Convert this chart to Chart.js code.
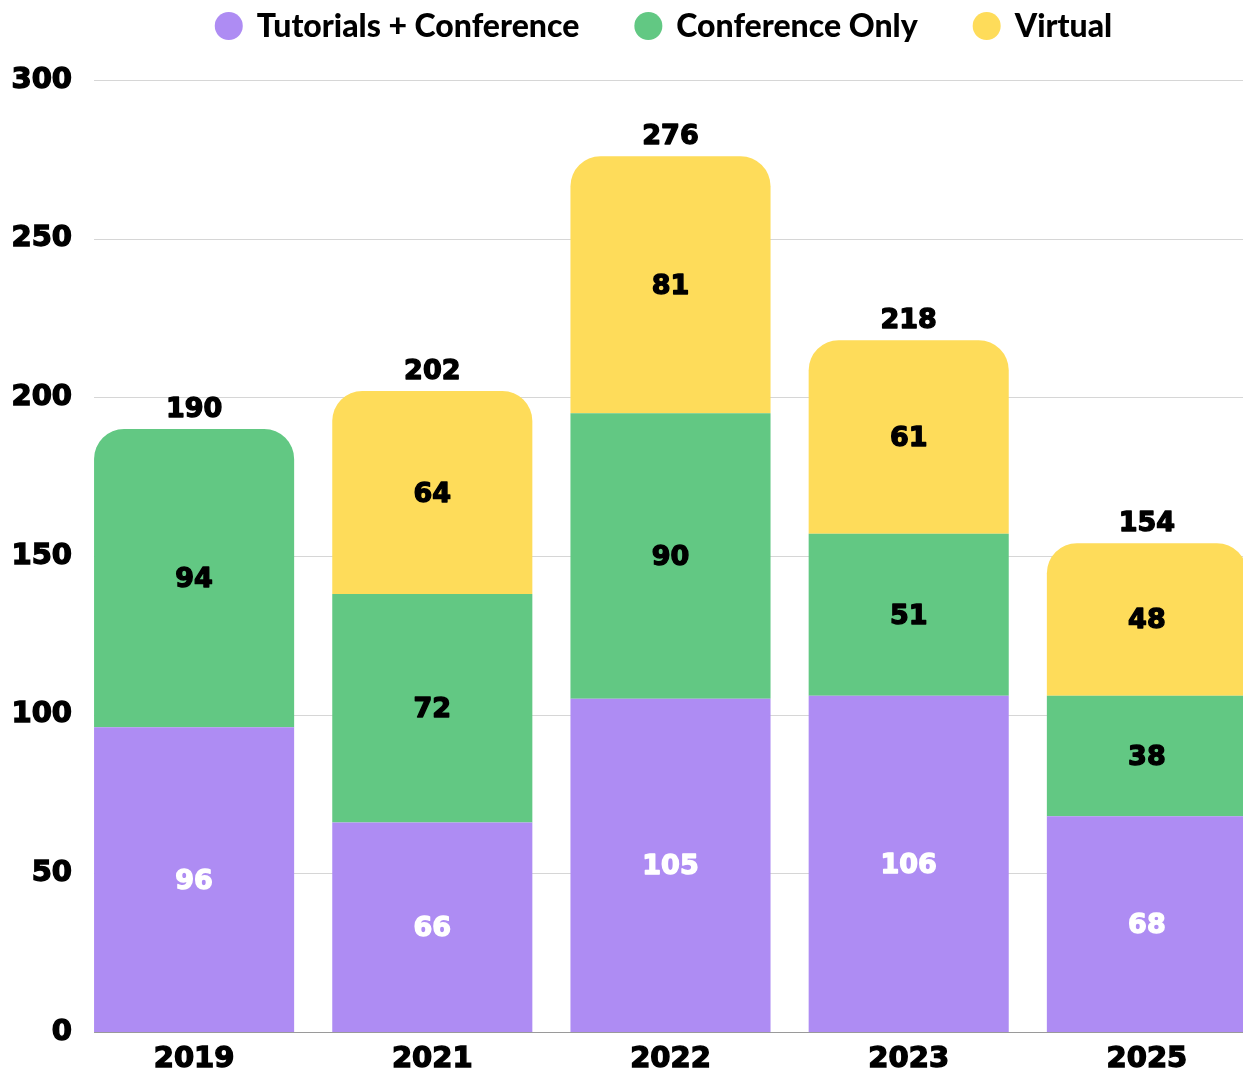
<!DOCTYPE html>
<html>
<head>
<meta charset="utf-8">
<title>Attendance by year</title>
<script src="https://cdn.jsdelivr.net/npm/chart.js@4.4.1/dist/chart.umd.min.js"></script>
<style>
  html, body { margin: 0; padding: 0; background: #fff; overflow: hidden; }
  #wrap { width: 1243px; height: 1074px; overflow: hidden; }
  #box { width: 1266px; height: 1074px; position: relative; }
</style>
</head>
<body>
<div id="wrap"><div id="box"><canvas id="chart"></canvas></div></div>
<script>
// Data
const years = ['2019', '2021', '2022', '2023', '2025'];
const tutorialsConf = [96, 66, 105, 106, 68];
const conferenceOnly = [94, 72, 90, 51, 38];
const virtualOnly = [null, 64, 81, 61, 48];

const NUM_FONT = '"DejaVu Sans", sans-serif';
const TEXT_FONT = 'Lato, "Open Sans", sans-serif';

// only the top segment of each stack gets rounded corners
function topRadius(ctx) {
    const sets = ctx.chart.data.datasets;
    for (let k = sets.length - 1; k > ctx.datasetIndex; k--) {
        if (sets[k].data[ctx.dataIndex]) return 0;
    }
    return { topLeft: 30, topRight: 30, bottomLeft: 0, bottomRight: 0 };
}

// horizontal grid lines, starting at the first bar's left edge
const gridLines = {
    id: 'gridLines',
    beforeDatasetsDraw(chart) {
        const { ctx, chartArea, scales: { y } } = chart;
        const first = chart.getDatasetMeta(0).data[0];
        const x0 = first.x - first.width / 2;
        ctx.save();
        ctx.lineWidth = 1;
        y.ticks.forEach(t => {
            const py = Math.round(y.getPixelForValue(t.value)) + 0.5;
            ctx.strokeStyle = t.value === 0 ? '#9a9a9a' : '#d6d6d6';
            ctx.beginPath();
            ctx.moveTo(x0, py);
            ctx.lineTo(chartArea.right, py);
            ctx.stroke();
        });
        ctx.restore();
    }
};

// text with a thin outline in its own colour, for a heavier look
function heavyText(ctx, txt, x, y, color) {
    ctx.fillStyle = color;
    ctx.strokeStyle = color;
    ctx.lineWidth = 1.4;
    ctx.lineJoin = 'round';
    ctx.strokeText(txt, x, y);
    ctx.fillText(txt, x, y);
}

// values inside each segment + totals above the stacks
const valueLabels = {
    id: 'valueLabels',
    afterDatasetsDraw(chart) {
        const { ctx } = chart;
        ctx.save();
        ctx.textAlign = 'center';
        ctx.textBaseline = 'middle';
        ctx.font = 'bold 27px ' + NUM_FONT;
        chart.data.datasets.forEach((ds, d) => {
            chart.getDatasetMeta(d).data.forEach((bar, i) => {
                const v = ds.data[i];
                if (!v) return;
                heavyText(ctx, v, bar.x, (bar.y + bar.base) / 2 + 2, ds.labelColor);
            });
        });
        years.forEach((yr, i) => {
            let total = 0, top = Infinity, x = 0;
            chart.data.datasets.forEach((ds, d) => {
                const v = ds.data[i];
                if (!v) return;
                total += v;
                const bar = chart.getDatasetMeta(d).data[i];
                top = Math.min(top, bar.y);
                x = bar.x;
            });
            heavyText(ctx, total, x, top - 19, '#000');
        });
        ctx.restore();
    }
};

// legend row with round markers, centred above the plot
const dotLegend = {
    id: 'dotLegend',
    afterDraw(chart) {
        const { ctx, chartArea } = chart;
        const r = 14, gapText = 28, gapItem = 55, cy = 26;
        ctx.save();
        ctx.font = '900 32px ' + TEXT_FONT;
        ctx.textBaseline = 'middle';
        ctx.textAlign = 'left';
        const items = chart.data.datasets.map(ds => ({
            label: ds.label,
            color: ds.backgroundColor,
            w: ctx.measureText(ds.label).width
        }));
        let total = 0;
        items.forEach((it, i) => { total += r + gapText + it.w + (i ? gapItem : 0); });
        let x = (chartArea.left + chartArea.right) / 2 - 7 - total / 2;
        items.forEach((it, i) => {
            if (i) x += gapItem;
            ctx.fillStyle = it.color;
            ctx.beginPath();
            ctx.arc(x + r, cy, r, 0, Math.PI * 2);
            ctx.fill();
            ctx.fillStyle = '#000';
            ctx.fillText(it.label, x + r + gapText, cy + 1);
            x += r + gapText + it.w;
        });
        ctx.restore();
    }
};

const tickFont = { family: NUM_FONT, size: 29, weight: 'bold' };

const chart = new Chart(document.getElementById('chart'), {
    type: 'bar',
    data: {
        labels: years,
        datasets: [
            { label: 'Tutorials + Conference', data: tutorialsConf, backgroundColor: '#ae8cf3', labelColor: '#ffffff' },
            { label: 'Conference Only', data: conferenceOnly, backgroundColor: '#62c883', labelColor: '#000000' },
            { label: 'Virtual', data: virtualOnly, backgroundColor: '#fedc5a', labelColor: '#000000' }
        ]
    },
    options: {
        responsive: true,
        maintainAspectRatio: false,
        animation: false,
        layout: { padding: { top: 80, left: 0, right: 0, bottom: 0 } },
        datasets: {
            bar: {
                categoryPercentage: 1,
                barPercentage: 0.84,
                borderRadius: topRadius,
                borderSkipped: 'start'
            }
        },
        plugins: {
            legend: { display: false },
            tooltip: { enabled: false }
        },
        scales: {
            x: {
                stacked: true,
                grid: { display: false, drawTicks: false },
                border: { display: false },
                ticks: { color: '#000', padding: 10, font: tickFont, textStrokeColor: '#000', textStrokeWidth: 1.4 },
                afterFit(scale) { scale.height = 42; }
            },
            y: {
                stacked: true,
                min: 0,
                max: 300,
                ticks: { stepSize: 50, color: '#000', padding: 3, font: tickFont, textStrokeColor: '#000', textStrokeWidth: 1.4 },
                grid: { display: false, drawTicks: false },
                border: { display: false },
                afterFit(scale) { scale.width = 75; }
            }
        }
    },
    plugins: [gridLines, valueLabels, dotLegend]
});
</script>
</body>
</html>
